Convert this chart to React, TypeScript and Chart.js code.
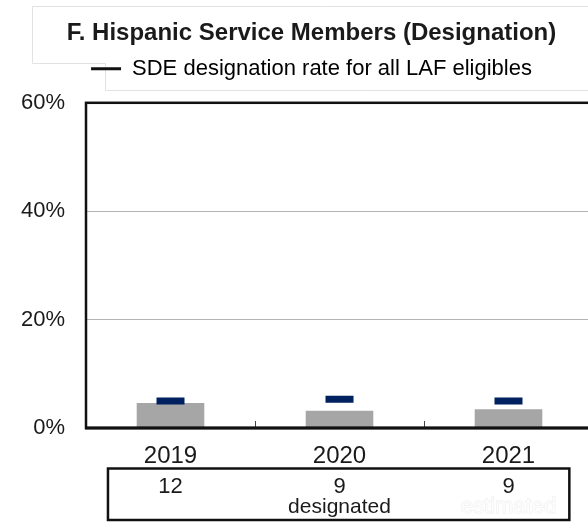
import React, { useEffect, useRef } from "react";
import { Chart, registerables } from "chart.js";

Chart.register(...registerables);

const titleText = "F. Hispanic Service Members (Designation)";
const legendText = "SDE designation rate for all LAF eligibles";
const categories = ["2019", "2020", "2021"];
const hispanicRates = [4.6, 3.2, 3.45];
const allLafRates = [5.0, 5.3, 5.0];
const designatedCounts = ["12", "9", "9"];
const tableCaption = "designated";
const watermarkText = "estimated";
const yTickValues = [0, 20, 40, 60];

const FONT = "'Liberation Sans', Arial, sans-serif";
const TEXT = "#1a1a1a";

const framePlugin = {
  id: "frameAndTable",
  beforeInit(chart: any) {
    const legend = chart.legend;
    if (legend) {
      const orig = legend.fit;
      legend.fit = function () {
        orig.call(this);
        this.height += 13;
      };
    }
  },
  beforeDraw(chart: any) {
    const ctx = chart.ctx;
    ctx.save();
    ctx.strokeStyle = "#e2e2e2";
    ctx.lineWidth = 1;
    ctx.beginPath();
    ctx.moveTo(620, 6.5);
    ctx.lineTo(32.5, 6.5);
    ctx.lineTo(32.5, 63.5);
    ctx.lineTo(105.5, 63.5);
    ctx.lineTo(105.5, 90.5);
    ctx.lineTo(620, 90.5);
    ctx.stroke();
    ctx.restore();
  },
  afterDraw(chart: any) {
    const ctx = chart.ctx;
    const area = chart.chartArea;
    const xs = chart.scales.x;
    ctx.save();
    // inner boundary ticks
    ctx.strokeStyle = "#444";
    ctx.lineWidth = 1;
    for (let i = 1; i < categories.length; i++) {
      const bx = Math.round((xs.getPixelForValue(i - 1) + xs.getPixelForValue(i)) / 2) + 0.5;
      ctx.beginPath();
      ctx.moveTo(bx, area.bottom);
      ctx.lineTo(bx, area.bottom - 7);
      ctx.stroke();
    }
    // frame
    ctx.strokeStyle = "#111";
    ctx.lineWidth = 2.5;
    ctx.strokeRect(area.left, area.top, area.right - area.left, area.bottom - area.top);
    ctx.lineWidth = 3;
    ctx.beginPath();
    ctx.moveTo(area.left - 1, area.bottom);
    ctx.lineTo(area.right, area.bottom);
    ctx.stroke();

    // table
    const step = xs.getPixelForValue(1) - xs.getPixelForValue(0);
    const left = xs.getPixelForValue(0) - 0.37 * step;
    const right = xs.getPixelForValue(categories.length - 1) + 0.36 * step;
    ctx.lineWidth = 2.5;
    ctx.strokeStyle = "#111";
    ctx.strokeRect(left, 468.5, right - left, 51.5);

    ctx.fillStyle = TEXT;
    ctx.textAlign = "center";
    ctx.textBaseline = "middle";
    ctx.font = `22px ${FONT}`;
    designatedCounts.forEach((c, i) => {
      ctx.fillText(c, xs.getPixelForValue(i), 487);
    });
    ctx.font = `21px ${FONT}`;
    ctx.fillText(tableCaption, xs.getPixelForValue(1), 507);
    ctx.font = `22px ${FONT}`;
    ctx.strokeStyle = "#ececec";
    ctx.lineWidth = 1;
    ctx.strokeText(watermarkText, xs.getPixelForValue(2), 507);
    ctx.fillStyle = "#fdfdfd";
    ctx.fillText(watermarkText, xs.getPixelForValue(2), 507);
    ctx.restore();
  },
};

export default function App() {
  const ref = useRef<HTMLCanvasElement | null>(null);

  useEffect(() => {
    if (!ref.current) return;
    const chart = new Chart(ref.current, {
      type: "bar",
      data: {
        labels: categories,
        datasets: [
          {
            type: "line",
            label: legendText,
            data: allLafRates,
            showLine: false,
            pointStyle: "line",
            pointRadius: 14,
            pointHoverRadius: 14,
            pointBorderWidth: 7,
            pointBorderColor: "#00215f",
            pointBackgroundColor: "#00215f",
            borderColor: "#00215f",
            order: 0,
          } as any,
          {
            type: "bar",
            label: "Hispanic designation rate",
            data: hispanicRates,
            backgroundColor: "#a6a6a6",
            borderWidth: 0,
            barPercentage: 0.4,
            categoryPercentage: 1,
            grouped: false,
            order: 1,
          } as any,
        ],
      },
      options: {
        animation: false,
        responsive: false,
        devicePixelRatio: 1,
        layout: { padding: { top: 0, left: 30, right: 27, bottom: 0 } },
        plugins: {
          title: {
            display: true,
            text: titleText,
            color: TEXT,
            font: { family: FONT, size: 24, weight: "bold" },
            padding: { top: 19, bottom: 2 },
          },
          legend: {
            display: true,
            position: "top",
            labels: {
              color: TEXT,
              font: { family: FONT, size: 22 },
              boxWidth: 30,
              boxHeight: 3,
              padding: 8,
              generateLabels: () => [
                {
                  text: legendText,
                  fillStyle: "#111",
                  strokeStyle: "#111",
                  lineWidth: 0,
                  hidden: false,
                  datasetIndex: 0,
                },
              ],
            },
          },
          tooltip: { enabled: false },
        },
        scales: {
          x: {
            offset: true,
            grid: { display: false, drawTicks: false },
            border: { display: false },
            ticks: { color: TEXT, font: { family: FONT, size: 24 }, padding: 14 },
            afterFit: (s: any) => {
              s.height = 97;
            },
          },
          y: {
            min: 0,
            max: 60,
            afterBuildTicks: (s: any) => {
              s.ticks = yTickValues.map((v) => ({ value: v }));
            },
            grid: { color: "#b3b3b3", lineWidth: 1, drawTicks: false },
            border: { display: false },
            ticks: {
              color: TEXT,
              font: { family: FONT, size: 22 },
              padding: 21,
              callback: (v: any) => `${v}%`,
            },
            afterFit: (s: any) => {
              s.width = 56;
              s._computeLabelArea = () => undefined;
            },
          },
        },
      } as any,
      plugins: [framePlugin],
    });
    return () => chart.destroy();
  }, []);

  return (
    <div
      style={{
        position: "fixed",
        left: 0,
        top: 0,
        width: 588,
        height: 525,
        overflow: "hidden",
        background: "#fff",
      }}
    >
      <canvas ref={ref} width={620} height={525} style={{ display: "block" }} />
    </div>
  );
}
